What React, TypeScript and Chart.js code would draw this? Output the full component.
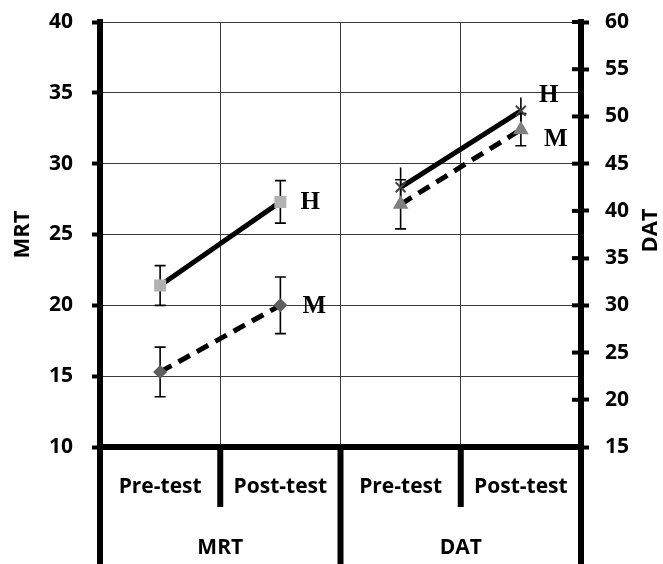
import React, { useEffect, useRef } from 'react';
import { Chart, registerables } from 'chart.js';

Chart.register(...registerables);

// ---- data ----
const categories = ['Pre-test', 'Post-test', 'Pre-test', 'Post-test'];
const groups = ['MRT', 'DAT'];

const mrtH = [21.4, 27.3, null, null];
const mrtHErr = [1.4, 1.5, null, null];
const mrtM = [15.3, 20.0, null, null];
const mrtMErr = [1.75, 2.0, null, null];

const datH = [null, null, 42.5, 50.6];
const datHErr = [null, null, 2.1, 1.4];
const datM = [null, null, 40.7, 48.6];
const datMErr = [null, null, 2.6, 1.7];

const seriesNames = ['H', 'M', 'H', 'M'];

const TICK_FONT = { family: "'Open Sans', 'Liberation Sans', sans-serif", size: 21, weight: 'bold' as const };
const TITLE_FONT = { family: "'Open Sans', 'Liberation Sans', sans-serif", size: 22, weight: 'bold' as const };

export default function App() {
  const ref = useRef<HTMLCanvasElement>(null);

  useEffect(() => {
    const errorBars = {
      id: 'errorBars',
      beforeDatasetsDraw(chart: any) {
        const ctx = chart.ctx;
        ctx.save();
        ctx.strokeStyle = '#000';
        ctx.lineWidth = 1.6;
        chart.data.datasets.forEach((ds: any, di: number) => {
          const meta = chart.getDatasetMeta(di);
          const yScale = chart.scales[ds.yAxisID];
          ds.data.forEach((v: number | null, i: number) => {
            const e = ds.errors[i];
            if (v == null || e == null) return;
            const x = meta.data[i].x;
            const yt = yScale.getPixelForValue(v + e);
            const yb = yScale.getPixelForValue(v - e);
            ctx.beginPath();
            ctx.moveTo(x, yt);
            ctx.lineTo(x, yb);
            if (ds.capped) {
              ctx.moveTo(x - 5.5, yt);
              ctx.lineTo(x + 5.5, yt);
              ctx.moveTo(x - 5.5, yb);
              ctx.lineTo(x + 5.5, yb);
            }
            ctx.stroke();
          });
        });
        ctx.restore();
      },
    };

    const decorations = {
      id: 'decorations',
      afterDraw(chart: any) {
        const ctx = chart.ctx;
        const xs = chart.scales.x;
        const x2 = chart.scales.x2;
        const y2 = chart.scales.y2;
        const area = chart.chartArea;
        ctx.save();
        // separators below the category axis
        ctx.strokeStyle = '#000';
        ctx.lineWidth = 6;
        for (let i = 0; i <= categories.length; i++) {
          const px = xs.getPixelForValue(i - 0.5);
          const full = i % 2 === 0;
          ctx.beginPath();
          ctx.moveTo(px, area.bottom);
          ctx.lineTo(px, full ? x2.bottom : xs.bottom + 2);
          ctx.stroke();
        }
        // inner half of right-axis tick marks
        ctx.lineWidth = 4;
        y2.ticks.forEach((t: any) => {
          const py = y2.getPixelForValue(t.value);
          ctx.beginPath();
          ctx.moveTo(area.right - 9, py);
          ctx.lineTo(area.right, py);
          ctx.stroke();
        });
        // right axis title (reads bottom to top)
        ctx.fillStyle = '#000';
        ctx.font = `bold ${TITLE_FONT.size}px ${TITLE_FONT.family}`;
        ctx.textAlign = 'center';
        ctx.textBaseline = 'middle';
        ctx.translate(651, (area.top + area.bottom) / 2 - 4);
        ctx.rotate(-Math.PI / 2);
        ctx.fillText('DAT', 0, 0);
        ctx.restore();

        // H / M series labels at the post-test points
        ctx.save();
        ctx.fillStyle = '#000';
        ctx.font = "bold 25px 'Liberation Serif', 'Times New Roman', serif";
        ctx.textAlign = 'left';
        ctx.textBaseline = 'middle';
        const offsets = [
          [20, 0],
          [22, 0],
          [18, -16],
          [23, 9],
        ];
        chart.data.datasets.forEach((ds: any, di: number) => {
          const meta = chart.getDatasetMeta(di);
          let last = -1;
          ds.data.forEach((v: any, i: number) => {
            if (v != null) last = i;
          });
          const pt = meta.data[last];
          ctx.fillText(seriesNames[di], pt.x + offsets[di][0], pt.y + offsets[di][1] + 1);
        });
        ctx.restore();
      },
    };

    const chart = new Chart(ref.current as HTMLCanvasElement, {
      type: 'line',
      data: {
        labels: categories,
        datasets: [
          {
            label: 'MRT H',
            data: mrtH,
            errors: mrtHErr,
            capped: true,
            yAxisID: 'y',
            borderColor: '#000',
            borderWidth: 5,
            pointStyle: 'rect',
            pointRadius: 8.5,
            pointBackgroundColor: '#b2b2b2',
            pointBorderColor: '#b2b2b2',
            pointBorderWidth: 0,
            spanGaps: false,
          } as any,
          {
            label: 'MRT M',
            data: mrtM,
            errors: mrtMErr,
            capped: true,
            yAxisID: 'y',
            borderColor: '#000',
            borderWidth: 5,
            borderDash: [13, 8],
            pointStyle: 'rectRot',
            pointRadius: 7,
            pointBackgroundColor: '#5f5f5f',
            pointBorderColor: '#5f5f5f',
            pointBorderWidth: 0,
            spanGaps: false,
          } as any,
          {
            label: 'DAT H',
            data: datH,
            errors: datHErr,
            capped: false,
            yAxisID: 'y2',
            borderColor: '#000',
            borderWidth: 5,
            pointStyle: 'crossRot',
            pointRadius: 7,
            pointBackgroundColor: '#404040',
            pointBorderColor: '#404040',
            pointBorderWidth: 2,
            spanGaps: false,
          } as any,
          {
            label: 'DAT M',
            data: datM,
            errors: datMErr,
            capped: true,
            yAxisID: 'y2',
            borderColor: '#000',
            borderWidth: 5,
            borderDash: [13, 8],
            pointStyle: 'triangle',
            pointRadius: 9,
            pointBackgroundColor: '#808080',
            pointBorderColor: '#808080',
            pointBorderWidth: 0,
            spanGaps: false,
          } as any,
        ],
      },
      options: {
        responsive: false,
        animation: false,
        devicePixelRatio: 1,
        layout: { padding: { top: 22, left: 0, right: 0, bottom: 0 } },
        plugins: { legend: { display: false }, tooltip: { enabled: false } },
        elements: { line: { tension: 0 } },
        scales: {
          x: {
            type: 'category',
            position: 'bottom',
            weight: 0,
            offset: true,
            grid: { offset: true, color: '#3a3a3a', lineWidth: 1, drawTicks: false },
            border: { display: true, color: '#000', width: 6 },
            ticks: { color: '#000', font: TICK_FONT, padding: 27, maxRotation: 0 },
            afterFit(s: any) {
              s.height = 58;
            },
          },
          x2: {
            type: 'category',
            position: 'bottom',
            weight: 1,
            labels: groups,
            offset: true,
            grid: { display: false, drawTicks: false },
            border: { display: false },
            ticks: { color: '#000', font: TICK_FONT, padding: 30, maxRotation: 0 },
            afterFit(s: any) {
              s.height = 59;
            },
          },
          y: {
            type: 'linear',
            position: 'left',
            min: 10,
            max: 40,
            ticks: { stepSize: 5, color: '#000', font: TICK_FONT, padding: 19 },
            grid: { color: '#3a3a3a', lineWidth: 1, drawTicks: true, tickLength: 8, tickWidth: 4, tickColor: '#000' },
            border: { color: '#000', width: 6 },
            title: { display: true, text: 'MRT', color: '#000', font: TITLE_FONT, padding: { top: 10, bottom: 0 } },
            afterFit(s: any) {
              s.width = 100;
              s.paddingTop = 0;
              s.paddingBottom = 0;
            },
          },
          y2: {
            type: 'linear',
            position: 'right',
            min: 15,
            max: 60,
            ticks: { stepSize: 5, color: '#000', font: TICK_FONT, padding: 16 },
            grid: { drawOnChartArea: false, drawTicks: true, tickLength: 8, tickWidth: 4, tickColor: '#000', color: '#000' },
            border: { color: '#000', width: 6 },
            afterFit(s: any) {
              s.width = 82;
              s.paddingTop = 0;
              s.paddingBottom = 0;
            },
          },
        },
      } as any,
      plugins: [errorBars, decorations],
    });
    return () => chart.destroy();
  }, []);

  return (
    <div style={{ position: 'absolute', left: 0, top: 0, width: 663, height: 564 }}>
      <canvas ref={ref} width={663} height={564} style={{ display: 'block' }} />
    </div>
  );
}
